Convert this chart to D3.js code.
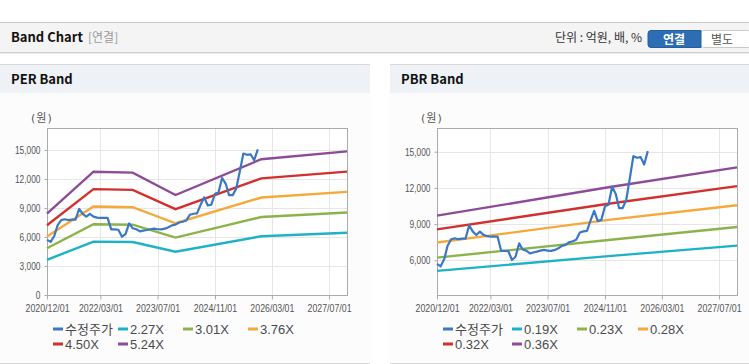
<!DOCTYPE html>
<html>
<head>
<meta charset="utf-8">
<script src="https://cdn.jsdelivr.net/npm/d3@7"></script>
<style>
  body { margin: 0; background: #fff; }
  svg { display: block; font-family: "Liberation Sans", Arial, sans-serif; }
</style>
</head>
<body>
<svg id="chart" width="749" height="364"></svg>
<script>
// ---- data ----
const priceStart = "2020-12-01";
const priceValues = [5700, 5500, 6100, 7200, 7750, 7830, 7750, 7800, 7800, 8900,
  8400, 8100, 8380, 8110, 8000, 7970, 7970, 7970, 6780, 6780,
  6750, 6025, 6300, 7400, 6900, 6800, 6580, 6650, 6720, 6800,
  6860, 6800, 6780, 6860, 7000, 7200, 7275, 7500, 7580, 7700,
  8300, 8400, 8440, 9300, 10100, 9250, 9350, 10470, 10610, 12100,
  11500, 10330, 10330, 11000, 12800, 14630, 14500, 14550, 13940, 15050];

const perBandDates = ["2020-12-01", "2022-01-01", "2022-12-01", "2023-12-01", "2025-12-01", "2027-12-01"];
const perLabels = ["2.27X", "3.01X", "3.76X", "4.50X", "5.24X"];
const perBand1 = [3640, 5520, 5480, 4480, 6080, 6440];
const perBand2 = [4830, 7320, 7270, 5940, 8070, 8530];
const perBand3 = [6040, 9150, 9080, 7420, 10080, 10660];
const perBand4 = [7220, 10950, 10870, 8880, 12060, 12760];
const perBand5 = [8410, 12750, 12660, 10340, 14040, 14850];

const pbrBandDates = ["2020-12-01", "2024-12-01", "2027-12-01"];
const pbrLabels = ["0.19X", "0.23X", "0.28X", "0.32X", "0.36X"];
const pbrBand1 = [5120, 6350, 7220];
const pbrBand2 = [6220, 7680, 8760];
const pbrBand3 = [7480, 9350, 10560];
const pbrBand4 = [8560, 10690, 12150];
const pbrBand5 = [9700, 12050, 13700];

const xTickDates = ["2020-12-01", "2022-03-01", "2023-07-01", "2024-11-01", "2026-03-01", "2027-07-01"];
const perYTicks = [0, 3000, 6000, 9000, 12000, 15000];
const pbrYTicks = [6000, 9000, 12000, 15000];

const priceLabel = "수정주가";
const colors = ["#3a78c6", "#1fb1c6", "#8cb34a", "#f4a93a", "#d2302e", "#8e4b98"];

// ---- page chrome ----
const svg = d3.select("#chart");
const parse = d3.timeParse("%Y-%m-%d");
const krFont = "'Noto Sans CJK KR', sans-serif";

svg.append("rect").attr("x", 0).attr("y", 22).attr("width", 749).attr("height", 30)
  .attr("fill", "#f4f4f4");
svg.append("line").attr("x1", 0).attr("x2", 749).attr("y1", 22.5).attr("y2", 22.5)
  .attr("stroke", "#c8c8c8");
svg.append("line").attr("x1", 0).attr("x2", 749).attr("y1", 52.5).attr("y2", 52.5)
  .attr("stroke", "#cfcfcf");
svg.append("line").attr("x1", 0).attr("x2", 749).attr("y1", 53.5).attr("y2", 53.5)
  .attr("stroke", "#ececec");

svg.append("text").attr("x", 11).attr("y", 42)
  .attr("font-size", 13).attr("font-weight", "bold").attr("fill", "#111")
  .attr("font-family", krFont)
  .text("Band Chart");
svg.append("text").attr("x", 88).attr("y", 42)
  .attr("font-size", 12).attr("fill", "#999")
  .attr("font-family", krFont)
  .text("[연결]");
svg.append("text").attr("x", 642).attr("y", 42).attr("text-anchor", "end")
  .attr("font-size", 12).attr("fill", "#333")
  .attr("font-family", krFont)
  .text("단위 : 억원, 배, %");

// toggle buttons
svg.append("rect").attr("x", 700.5).attr("y", 30.5).attr("width", 50).attr("height", 17)
  .attr("rx", 3).attr("fill", "#fff").attr("stroke", "#c9c9c9");
svg.append("path")
  .attr("d", "M651,30.5 h50 v17 h-50 a3,3 0 0 1 -3,-3 v-11 a3,3 0 0 1 3,-3 z")
  .attr("fill", "#2d6db3").attr("stroke", "#265e9c");
svg.append("text").attr("x", 674).attr("y", 43.5).attr("text-anchor", "middle")
  .attr("font-size", 12).attr("font-weight", "bold").attr("fill", "#fff")
  .attr("font-family", krFont)
  .text("연결");
svg.append("text").attr("x", 722).attr("y", 43.5).attr("text-anchor", "middle")
  .attr("font-size", 12).attr("fill", "#555")
  .attr("font-family", krFont)
  .text("별도");

// squeeze axis labels a bit, the original uses a narrow font
function narrow(sel, k) {
  sel.each(function() {
    const w = this.getComputedTextLength();
    d3.select(this).attr("textLength", w * k).attr("lengthAdjust", "spacingAndGlyphs");
  });
}

// ---- one band panel ----
function drawPanel(opt) {
  const g = svg.append("g");
  const px = opt.panelX, pw = opt.panelW;

  g.append("rect").attr("x", px).attr("y", 64).attr("width", pw).attr("height", 300)
    .attr("fill", "#fcfcfd");
  g.append("rect").attr("x", px).attr("y", 64).attr("width", pw).attr("height", 29)
    .attr("fill", "#eef2f7");
  g.append("line").attr("x1", px).attr("x2", px + pw).attr("y1", 64.5).attr("y2", 64.5)
    .attr("stroke", "#d8d8d8");
  g.append("line").attr("x1", px).attr("x2", px + pw).attr("y1", 363.5).attr("y2", 363.5)
    .attr("stroke", "#d8d8d8");
  g.append("text").attr("x", px + 11).attr("y", 84)
    .attr("font-size", 13).attr("font-weight", "bold").attr("fill", "#111")
    .attr("font-family", krFont)
    .text(opt.title);

  const m = opt.plot;
  const x = d3.scaleTime()
    .domain([parse("2020-12-01"), parse("2027-12-01")])
    .range([m.left, m.right]);
  const y = d3.scaleLinear()
    .domain(opt.yDomain)
    .range([m.bottom, m.top]);

  g.append("text").attr("x", m.left - 16).attr("y", 122)
    .attr("font-size", 11).attr("fill", "#555")
    .attr("font-family", "'DejaVu Sans', 'Noto Sans CJK KR', sans-serif")
    .attr("letter-spacing", 1)
    .text("(원)");

  g.append("rect").attr("x", m.left).attr("y", m.top)
    .attr("width", m.right - m.left).attr("height", m.bottom - m.top)
    .attr("fill", "#fff");

  // grid
  const xt = xTickDates.map(parse);
  g.append("g").selectAll("line").data(xt).join("line")
    .attr("x1", d => Math.round(x(d)) + 0.5).attr("x2", d => Math.round(x(d)) + 0.5)
    .attr("y1", m.top).attr("y2", m.bottom)
    .attr("stroke", "#e6e6e6");
  g.append("g").selectAll("line").data(opt.yTicks).join("line")
    .attr("x1", m.left).attr("x2", m.right)
    .attr("y1", d => Math.round(y(d)) + 0.5).attr("y2", d => Math.round(y(d)) + 0.5)
    .attr("stroke", "#e6e6e6");

  // axes
  const xAxis = g.append("g")
    .attr("transform", `translate(0,${m.bottom + 0.5})`)
    .call(d3.axisBottom(x).tickValues(xt).tickFormat(d3.timeFormat("%Y/%m/%d"))
      .tickSizeInner(4).tickSizeOuter(0).tickPadding(5));
  const yAxis = g.append("g")
    .attr("transform", `translate(${m.left + 0.5},0)`)
    .call(d3.axisLeft(y).tickValues(opt.yTicks).tickFormat(d3.format(","))
      .tickSizeInner(3).tickSizeOuter(0).tickPadding(4));
  [xAxis, yAxis].forEach(a => {
    a.select(".domain").remove();
    a.selectAll("line").attr("stroke", "#aaa");
    a.selectAll("text").attr("fill", "#555").attr("font-size", 11);
  });
  narrow(xAxis.selectAll("text"), 0.8);
  narrow(yAxis.selectAll("text"), 0.76);

  g.append("rect").attr("x", m.left + 0.5).attr("y", m.top + 0.5)
    .attr("width", m.right - m.left).attr("height", m.bottom - m.top)
    .attr("fill", "none").attr("stroke", "#ababab");

  // bands
  const line = d3.line().x(d => x(d.date)).y(d => y(d.value));
  opt.bands.forEach((vals, i) => {
    const pts = vals.map((v, j) => ({ date: parse(opt.bandDates[j]), value: v }));
    g.append("path").datum(pts)
      .attr("d", line)
      .attr("fill", "none")
      .attr("stroke", colors[i + 1])
      .attr("stroke-width", 2.4);
  });

  // price
  const months = d3.timeMonth.range(parse(priceStart), parse("2030-01-01"));
  const pricePts = priceValues.map((v, i) => ({ date: months[i], value: v }));
  g.append("path").datum(pricePts)
    .attr("d", line)
    .attr("fill", "none")
    .attr("stroke", colors[0])
    .attr("stroke-width", 2.2)
    .attr("stroke-linejoin", "round");

  // legend
  const names = [priceLabel].concat(opt.labels);
  names.forEach((n, i) => {
    const row = i < 4 ? 0 : 1;
    const col = i < 4 ? i : i - 4;
    const lx = opt.legendX[col];
    const ly = row === 0 ? 329 : 344;
    g.append("line").attr("x1", lx).attr("x2", lx + 10)
      .attr("y1", ly).attr("y2", ly)
      .attr("stroke", colors[i]).attr("stroke-width", 3);
    g.append("text").attr("x", lx + 12).attr("y", ly + 5)
      .attr("font-size", 13).attr("fill", "#4a4a4a")
      .attr("font-family", i === 0 ? krFont : "'Liberation Sans', sans-serif")
      .text(n);
  });
}

drawPanel({
  title: "PER Band",
  panelX: 0, panelW: 370,
  plot: { left: 47, right: 347, top: 128, bottom: 295 },
  yDomain: [0, 17270],
  yTicks: perYTicks,
  bandDates: perBandDates,
  bands: [perBand1, perBand2, perBand3, perBand4, perBand5],
  labels: perLabels,
  legendX: [53, 118, 183, 248]
});

drawPanel({
  title: "PBR Band",
  panelX: 390, panelW: 359,
  plot: { left: 437, right: 737, top: 128, bottom: 295 },
  yDomain: [3125, 16965],
  yTicks: pbrYTicks,
  bandDates: pbrBandDates,
  bands: [pbrBand1, pbrBand2, pbrBand3, pbrBand4, pbrBand5],
  labels: pbrLabels,
  legendX: [443, 512, 577, 638]
});
</script>
</body>
</html>
